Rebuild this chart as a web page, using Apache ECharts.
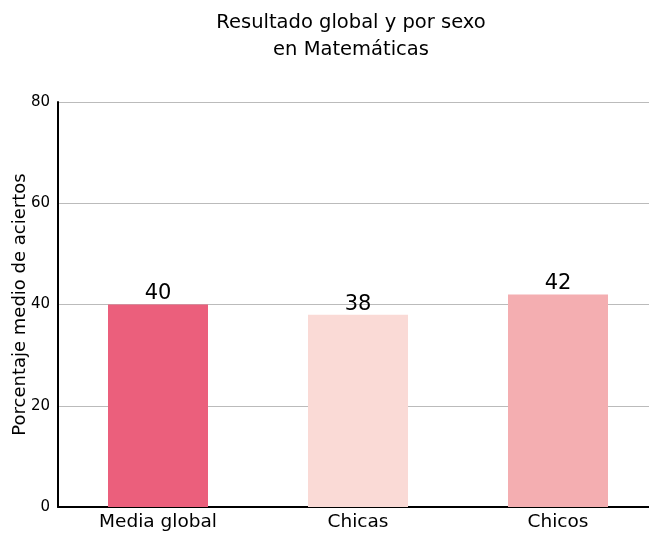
<!DOCTYPE html>
<html><head><meta charset="utf-8">
<script src="https://cdn.jsdelivr.net/npm/echarts@6/dist/echarts.min.js"></script>
<style>html,body{margin:0;padding:0;background:#fff}#c{width:649px;height:534px}</style>
</head><body><div id="c"></div>
<script>
const categories = ['Media global', 'Chicas', 'Chicos'];
const values = [40, 38, 42];
const barColors = ['#EB5F7C', '#FADAD6', '#F4AEB1'];
const yTicks = [0, 20, 40, 60, 80];

const chart = echarts.init(document.getElementById('c'));
const FF = '"DejaVu Sans", sans-serif';
chart.setOption({
  animation: false,
  title: {
    text: 'Resultado global y por sexo\nen Matemáticas',
    left: 346, textAlign: 'center', top: 4,
    textStyle: { fontFamily: FF, fontSize: 19.5, fontWeight: 'normal', color: '#000', lineHeight: 27 }
  },
  grid: { left: 58, width: 600, top: 102, bottom: 27, containLabel: false, outerBoundsMode: 'none' },
  xAxis: {
    type: 'category', data: categories,
    axisLine: { lineStyle: { color: '#000', width: 2 } },
    axisTick: { show: false },
    axisLabel: { fontFamily: FF, fontSize: 18.5, color: '#000', margin: 6 }
  },
  yAxis: {
    type: 'value', min: yTicks[0], max: yTicks[yTicks.length - 1], interval: 20,
    name: 'Porcentaje medio de aciertos', nameLocation: 'middle', nameGap: 29,
    nameMoveOverlap: false,
    nameTextStyle: { fontFamily: FF, fontSize: 18, color: '#000' },
    axisLine: { show: true, lineStyle: { color: '#000', width: 2 } },
    axisTick: { show: false },
    axisLabel: { fontFamily: FF, fontSize: 15, color: '#000', margin: 8 },
    splitLine: { lineStyle: { color: '#bbb', width: 1 } }
  },
  series: [{
    type: 'bar', barWidth: '50%',
    data: values.map((v, i) => ({ value: v, itemStyle: { color: barColors[i] } })),
    label: { show: true, position: 'top', distance: 0, fontFamily: FF, fontSize: 21, color: '#000' }
  }]
});
</script></body></html>
